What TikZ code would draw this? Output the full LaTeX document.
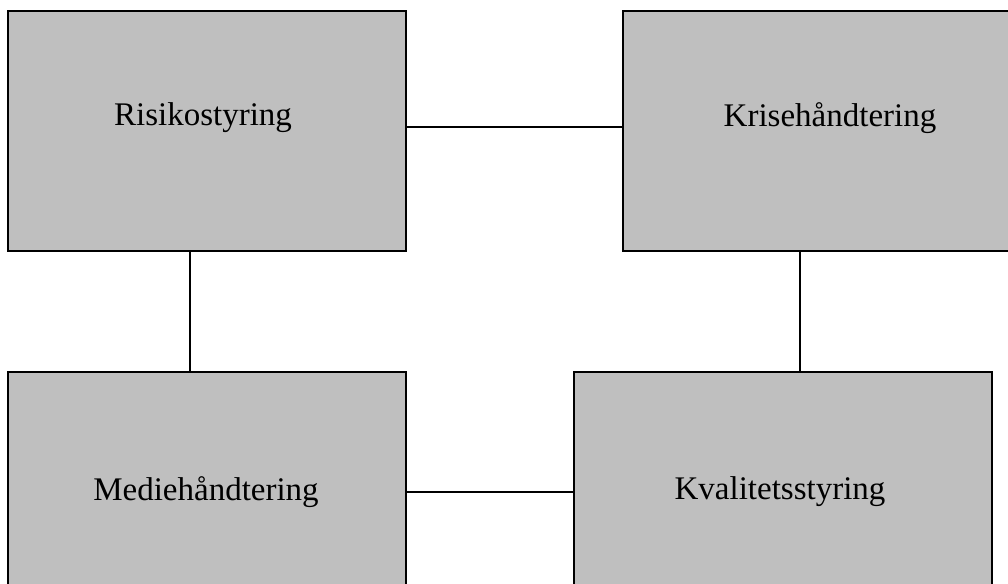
\documentclass[tikz,border=0pt]{standalone}
\usepackage{fontspec}
\setmainfont{Liberation Serif}
\usepackage{tikz}

\begin{document}
\begin{tikzpicture}[x=1pt,y=-1pt]
    \tikzset{BoxStyle/.style = {%
        shape= rectangle,
        fill= black!25,
        line width= 1.5pt,
        minimum width = 398pt,
        minimum height = 240pt,draw},
      LabelStyle/.style = {font=\fontsize{33}{40}\selectfont}}
    \useasboundingbox (0,0) rectangle (1008,583);
    \clip (0,0) rectangle (1008,583);
    \node[BoxStyle] (risiko) at (207,131) {};
    \node[BoxStyle,minimum width=414pt] (krise) at (830,131) {};
    \node[BoxStyle] (medie) at (207,492) {};
    \node[BoxStyle,minimum width=418pt] (kval) at (783,492) {};
    \node[LabelStyle] (risikotxt) at (203,118) {Risikostyring};
    \node[LabelStyle] (krisetxt) at (830,118) {Krisehåndtering};
    \node[LabelStyle] (medietxt) at (206,492) {Mediehåndtering};
    \node[LabelStyle] (kvaltxt) at (780,492) {Kvalitetsstyring};
    \draw[line width=1.5pt] ([yshift=4pt]risiko.east) -- ([yshift=4pt]krise.west);
    \draw[line width=1.5pt] ([xshift=-17pt]risiko.south) -- ([xshift=-17pt]medie.north);
    \draw[line width=1.5pt] ([xshift=17pt]kval.north |- krise.south) -- ([xshift=17pt]kval.north);
    \draw[line width=1.5pt] (medie.east) -- (kval.west);
  \end{tikzpicture}
\end{document}
